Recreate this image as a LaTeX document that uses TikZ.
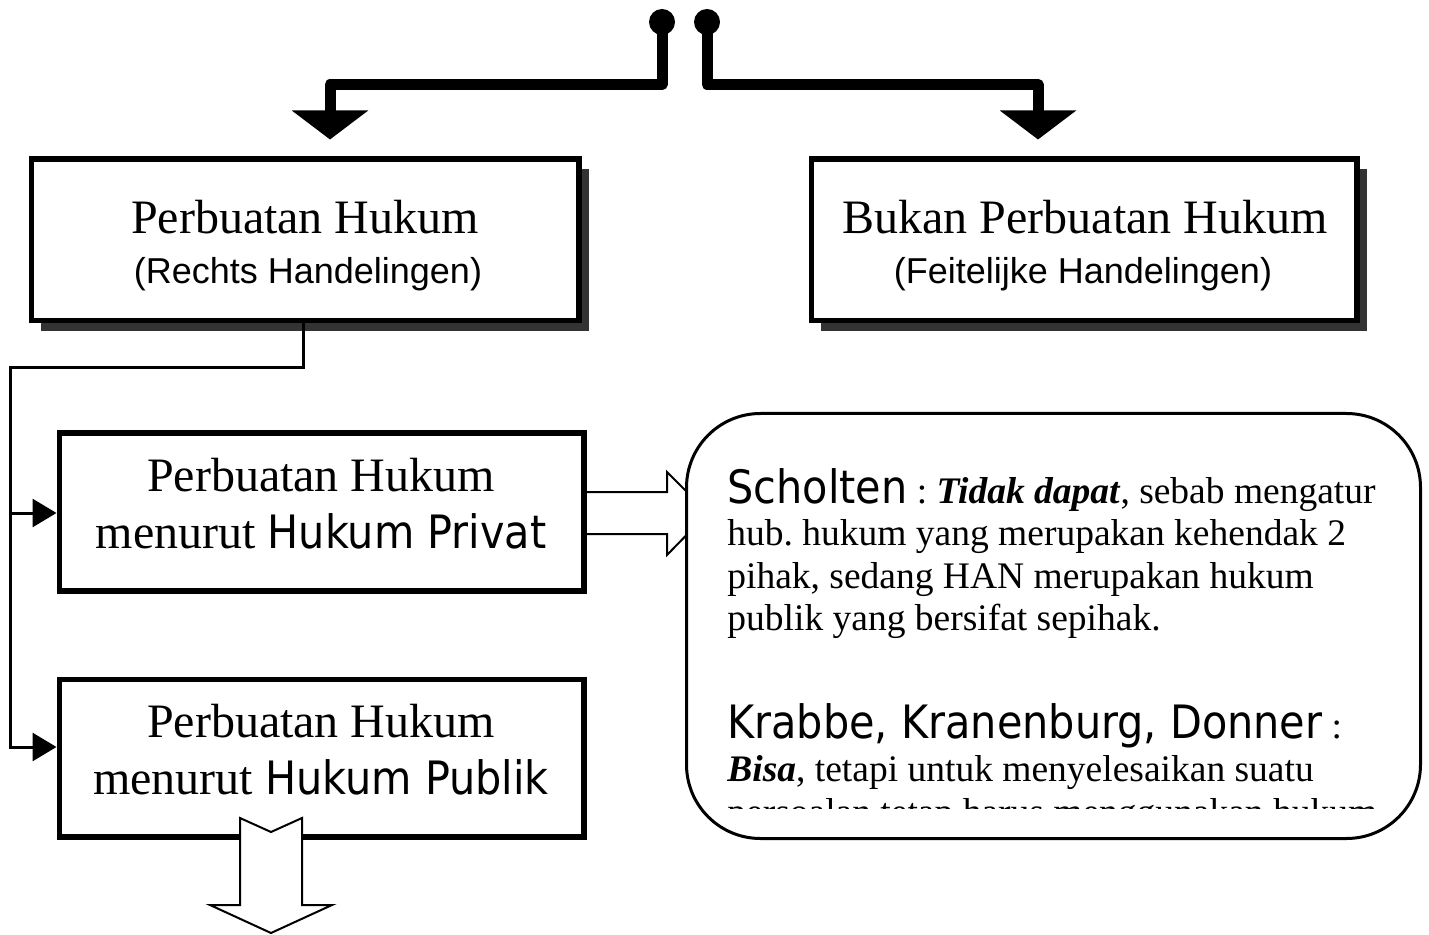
\documentclass[tikz,border=0pt]{standalone}
\usepackage{fontspec}
\setmainfont{Liberation Serif}
\newfontfamily\arialfont{Liberation Sans}
\newfontfamily\tahomafont[FakeStretch=0.9]{DejaVu Sans}
\usetikzlibrary{arrows.meta,shadows,calc}
\frenchspacing

\tikzset{
  heavybox/.style={draw, line width=2.75pt, fill=white, inner sep=0pt},
  boxshadow/.style={drop shadow={shadow xshift=5pt, shadow yshift=-5pt, opacity=1, fill=black!80}},
  notebox/.style={draw, line width=1.5pt, fill=white, rounded corners=37pt, inner sep=0pt},
  dotnode/.style={circle, fill=black, minimum size=13pt, inner sep=0pt},
  trunk/.style={line width=5.5pt, line join=round, -{Triangle[width=37.5pt,length=14.5pt]}},
  conn/.style={line width=1.5pt, -{Triangle[width=14pt,length=12pt]}},
  hollow/.style={draw, line width=1pt, fill=white, line join=miter},
  txt/.style={inner sep=0pt, anchor=base},
  ltxt/.style={inner sep=0pt, anchor=base west},
  serifbig/.style={font=\fontsize{24}{28}\selectfont},
  sanssmall/.style={font=\arialfont\fontsize{18}{21}\selectfont},
  notefont/.style={font=\fontsize{18.75}{21.5}\selectfont},
}
\newcommand{\tah}[1]{{\tahomafont\fontsize{23}{27}\selectfont #1}}

\begin{document}
\begin{tikzpicture}[x=0.5pt, y=-0.5pt]
\useasboundingbox (0,0) rectangle (1429,935);

% two terminals at the top
\node[dotnode] (dotL) at (662,22) {};
\node[dotnode] (dotR) at (707,22) {};

% main boxes
\node[heavybox, boxshadow, minimum width=273.75pt, minimum height=80.75pt] (box1) at (305,240) {};
\node[heavybox, boxshadow, minimum width=272.75pt, minimum height=80.75pt] (box2) at (1084,240) {};

\node[txt, serifbig] (t1a) at (305,234) {Perbuatan Hukum};
\node[txt, sanssmall] (t1b) at (308,284) {(Rechts Handelingen)};
\node[txt, serifbig] (t2a) at (1085,234) {Bukan Perbuatan Hukum};
\node[txt, sanssmall] (t2b) at (1083,284) {(Feitelijke Handelingen)};

% heavy branches from the terminals
\coordinate (bL) at (662,84.5);
\coordinate (bR) at (707,84.5);
\draw[trunk, shorten >=8.5pt] (dotL.center) -- (bL) -| ($(box1.north)+(25,0)$);
\draw[trunk, shorten >=8.5pt] (dotR.center) -- (bR) -| ($(box2.north)+(-46,0)$);

% hollow arrow towards the note
\draw[hollow] (585,492) -- (667,492) -- (667,472) -- (708,513) -- (667,555) -- (667,534) -- (585,534) -- cycle;

% sub boxes
\node[heavybox, minimum width=262.25pt, minimum height=78.75pt] (privat) at (321.5,512) {};
\node[heavybox, minimum width=262.25pt, minimum height=78.75pt] (publik) at (321.5,758) {};

\node[txt, serifbig] (t3a) at (321,491) {Perbuatan Hukum};
\node[txt, serifbig] (t3b) at (321,548) {menurut \tah{Hukum Privat}};
\node[txt, serifbig] (t4a) at (321,737) {Perbuatan Hukum};
\node[txt, serifbig] (t4b) at (321,794) {menurut \tah{Hukum Publik}};

% thin connectors on the left
\coordinate (jA) at (303,368);
\coordinate (jB) at (10,368);
\coordinate (jC) at (10,513);
\coordinate (jD) at (10,747);
\draw[conn] (box1.south -| jA) -- (jA) -- (jB) -- (jD) -- (jD -| publik.west);
\draw[conn] (jC) -- (jC -| privat.west);

% hollow arrow downwards
\draw[hollow] (240,818) -- (271,832) -- (302,818) -- (302,905) -- (332,905) -- (271,933) -- (210,905) -- (240,905) -- cycle;

% note with opinions
\node[notebox, minimum width=367pt, minimum height=212.5pt] (note) at (1053.5,626) {};
\node[ltxt, notefont] (n1) at (727,503) {\tah{Scholten} : \textbf{\textit{Tidak dapat}}, sebab mengatur};
\node[ltxt, notefont] (n2) at (727,545) {hub. hukum yang merupakan kehendak 2};
\node[ltxt, notefont] (n3) at (727,588) {pihak, sedang HAN merupakan hukum};
\node[ltxt, notefont] (n4) at (727,630) {publik yang bersifat sepihak.};
\node[ltxt, notefont] (n5) at (727,738) {\tah{Krabbe, Kranenburg, Donner} :};
\node[ltxt, notefont] (n6) at (727,781) {\textbf{\textit{Bisa}}, tetapi untuk menyelesaikan suatu};
\begin{scope}
  \clip (700,790) rectangle (1410,808);
  \node[ltxt, notefont] (n7) at (727,824) {persoalan tetap harus menggunakan hukum};
\end{scope}
\end{tikzpicture}
\end{document}
